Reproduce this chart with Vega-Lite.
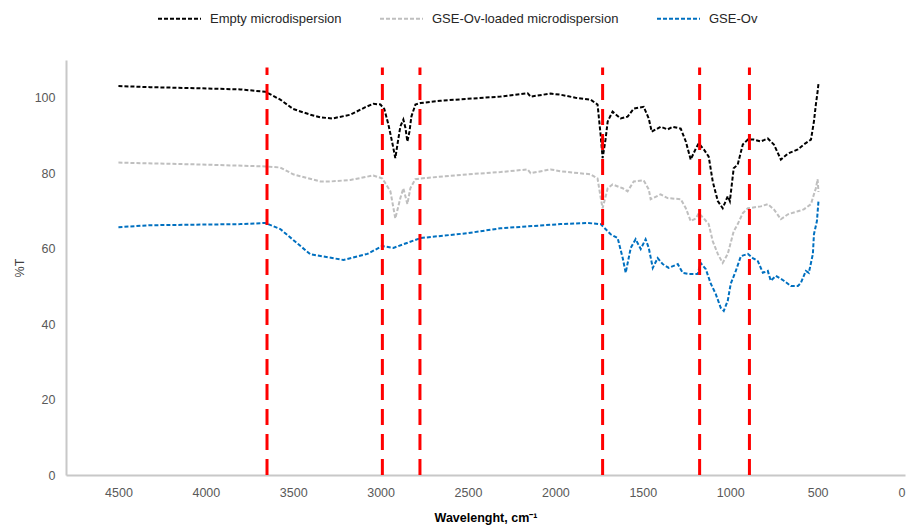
{
  "$schema": "https://vega.github.io/schema/vega-lite/v6.json",
  "width": 839,
  "height": 415,
  "autosize": "none",
  "padding": {"left": 66, "top": 60, "right": 4, "bottom": 56},
  "background": "white",
  "config": {
    "view": {"stroke": null},
    "font": "Liberation Sans",
    "axis": {"grid": false, "ticks": false, "domainColor": "#C8C8C8", "domainWidth": 2, "labelColor": "#595959", "labelFontSize": 12.5, "labelFont": "Liberation Sans"}
  },
  "datasets": {
    "spectra": [
      {"series": "Empty microdispersion", "x": 4500, "y": 103.1},
      {"series": "Empty microdispersion", "x": 4319, "y": 102.8},
      {"series": "Empty microdispersion", "x": 4033, "y": 102.5},
      {"series": "Empty microdispersion", "x": 3803, "y": 102.2},
      {"series": "Empty microdispersion", "x": 3660, "y": 101.6},
      {"series": "Empty microdispersion", "x": 3574, "y": 99.5},
      {"series": "Empty microdispersion", "x": 3500, "y": 97},
      {"series": "Empty microdispersion", "x": 3402, "y": 95.5},
      {"series": "Empty microdispersion", "x": 3345, "y": 94.8},
      {"series": "Empty microdispersion", "x": 3276, "y": 94.5},
      {"series": "Empty microdispersion", "x": 3173, "y": 95.5},
      {"series": "Empty microdispersion", "x": 3087, "y": 97.5},
      {"series": "Empty microdispersion", "x": 3042, "y": 98.4},
      {"series": "Empty microdispersion", "x": 3001, "y": 98.2},
      {"series": "Empty microdispersion", "x": 2979, "y": 97},
      {"series": "Empty microdispersion", "x": 2956, "y": 93},
      {"series": "Empty microdispersion", "x": 2933, "y": 88},
      {"series": "Empty microdispersion", "x": 2916, "y": 84},
      {"series": "Empty microdispersion", "x": 2899, "y": 89},
      {"series": "Empty microdispersion", "x": 2887, "y": 92.4},
      {"series": "Empty microdispersion", "x": 2870, "y": 94.2},
      {"series": "Empty microdispersion", "x": 2858, "y": 92},
      {"series": "Empty microdispersion", "x": 2847, "y": 88.4},
      {"series": "Empty microdispersion", "x": 2835, "y": 91},
      {"series": "Empty microdispersion", "x": 2824, "y": 95},
      {"series": "Empty microdispersion", "x": 2801, "y": 98.2},
      {"series": "Empty microdispersion", "x": 2772, "y": 98.6},
      {"series": "Empty microdispersion", "x": 2658, "y": 99.2},
      {"series": "Empty microdispersion", "x": 2503, "y": 99.7},
      {"series": "Empty microdispersion", "x": 2314, "y": 100.3},
      {"series": "Empty microdispersion", "x": 2159, "y": 101.2},
      {"series": "Empty microdispersion", "x": 2142, "y": 100.3},
      {"series": "Empty microdispersion", "x": 2028, "y": 101.1},
      {"series": "Empty microdispersion", "x": 1970, "y": 100.8},
      {"series": "Empty microdispersion", "x": 1885, "y": 100},
      {"series": "Empty microdispersion", "x": 1799, "y": 99.5},
      {"series": "Empty microdispersion", "x": 1759, "y": 98.2},
      {"series": "Empty microdispersion", "x": 1741, "y": 90},
      {"series": "Empty microdispersion", "x": 1730, "y": 84},
      {"series": "Empty microdispersion", "x": 1713, "y": 89},
      {"series": "Empty microdispersion", "x": 1701, "y": 93.7},
      {"series": "Empty microdispersion", "x": 1673, "y": 96.3},
      {"series": "Empty microdispersion", "x": 1627, "y": 94.5},
      {"series": "Empty microdispersion", "x": 1587, "y": 95},
      {"series": "Empty microdispersion", "x": 1552, "y": 97.1},
      {"series": "Empty microdispersion", "x": 1495, "y": 97.6},
      {"series": "Empty microdispersion", "x": 1466, "y": 94.5},
      {"series": "Empty microdispersion", "x": 1449, "y": 91},
      {"series": "Empty microdispersion", "x": 1398, "y": 92.3},
      {"series": "Empty microdispersion", "x": 1358, "y": 91.6},
      {"series": "Empty microdispersion", "x": 1329, "y": 92.3},
      {"series": "Empty microdispersion", "x": 1283, "y": 91.8},
      {"series": "Empty microdispersion", "x": 1254, "y": 88.4},
      {"series": "Empty microdispersion", "x": 1226, "y": 83.6},
      {"series": "Empty microdispersion", "x": 1197, "y": 86.5},
      {"series": "Empty microdispersion", "x": 1180, "y": 87.9},
      {"series": "Empty microdispersion", "x": 1151, "y": 86.3},
      {"series": "Empty microdispersion", "x": 1123, "y": 84.4},
      {"series": "Empty microdispersion", "x": 1100, "y": 77.8},
      {"series": "Empty microdispersion", "x": 1071, "y": 72.6},
      {"series": "Empty microdispersion", "x": 1043, "y": 70.7},
      {"series": "Empty microdispersion", "x": 1014, "y": 73.9},
      {"series": "Empty microdispersion", "x": 1002, "y": 72.6},
      {"series": "Empty microdispersion", "x": 980, "y": 81.3},
      {"series": "Empty microdispersion", "x": 957, "y": 82.3},
      {"series": "Empty microdispersion", "x": 928, "y": 87.6},
      {"series": "Empty microdispersion", "x": 899, "y": 88.9},
      {"series": "Empty microdispersion", "x": 865, "y": 88.9},
      {"series": "Empty microdispersion", "x": 825, "y": 88.4},
      {"series": "Empty microdispersion", "x": 785, "y": 89.2},
      {"series": "Empty microdispersion", "x": 750, "y": 87.6},
      {"series": "Empty microdispersion", "x": 710, "y": 83.6},
      {"series": "Empty microdispersion", "x": 670, "y": 85.2},
      {"series": "Empty microdispersion", "x": 613, "y": 86.3},
      {"series": "Empty microdispersion", "x": 579, "y": 87.6},
      {"series": "Empty microdispersion", "x": 538, "y": 88.9},
      {"series": "Empty microdispersion", "x": 521, "y": 93.7},
      {"series": "Empty microdispersion", "x": 510, "y": 98.2},
      {"series": "Empty microdispersion", "x": 500, "y": 101.6},
      {"series": "Empty microdispersion", "x": 495, "y": 103.7},

      {"series": "GSE-Ov-loaded microdispersion", "x": 4500, "y": 82.8},
      {"series": "GSE-Ov-loaded microdispersion", "x": 4033, "y": 82.3},
      {"series": "GSE-Ov-loaded microdispersion", "x": 3660, "y": 81.8},
      {"series": "GSE-Ov-loaded microdispersion", "x": 3574, "y": 81.5},
      {"series": "GSE-Ov-loaded microdispersion", "x": 3500, "y": 79.7},
      {"series": "GSE-Ov-loaded microdispersion", "x": 3460, "y": 79.2},
      {"series": "GSE-Ov-loaded microdispersion", "x": 3345, "y": 77.8},
      {"series": "GSE-Ov-loaded microdispersion", "x": 3288, "y": 77.8},
      {"series": "GSE-Ov-loaded microdispersion", "x": 3173, "y": 78.2},
      {"series": "GSE-Ov-loaded microdispersion", "x": 3042, "y": 79.4},
      {"series": "GSE-Ov-loaded microdispersion", "x": 2990, "y": 78.6},
      {"series": "GSE-Ov-loaded microdispersion", "x": 2944, "y": 75.2},
      {"series": "GSE-Ov-loaded microdispersion", "x": 2916, "y": 68},
      {"series": "GSE-Ov-loaded microdispersion", "x": 2887, "y": 73.4},
      {"series": "GSE-Ov-loaded microdispersion", "x": 2870, "y": 76},
      {"series": "GSE-Ov-loaded microdispersion", "x": 2847, "y": 71.8},
      {"series": "GSE-Ov-loaded microdispersion", "x": 2830, "y": 76},
      {"series": "GSE-Ov-loaded microdispersion", "x": 2801, "y": 78.4},
      {"series": "GSE-Ov-loaded microdispersion", "x": 2772, "y": 78.6},
      {"series": "GSE-Ov-loaded microdispersion", "x": 2503, "y": 79.7},
      {"series": "GSE-Ov-loaded microdispersion", "x": 2314, "y": 80.3},
      {"series": "GSE-Ov-loaded microdispersion", "x": 2159, "y": 81},
      {"series": "GSE-Ov-loaded microdispersion", "x": 2142, "y": 80},
      {"series": "GSE-Ov-loaded microdispersion", "x": 2028, "y": 81},
      {"series": "GSE-Ov-loaded microdispersion", "x": 1970, "y": 80.5},
      {"series": "GSE-Ov-loaded microdispersion", "x": 1799, "y": 79.7},
      {"series": "GSE-Ov-loaded microdispersion", "x": 1759, "y": 78.6},
      {"series": "GSE-Ov-loaded microdispersion", "x": 1741, "y": 73.5},
      {"series": "GSE-Ov-loaded microdispersion", "x": 1730, "y": 70.7},
      {"series": "GSE-Ov-loaded microdispersion", "x": 1701, "y": 76},
      {"series": "GSE-Ov-loaded microdispersion", "x": 1673, "y": 77},
      {"series": "GSE-Ov-loaded microdispersion", "x": 1615, "y": 76},
      {"series": "GSE-Ov-loaded microdispersion", "x": 1587, "y": 75.2},
      {"series": "GSE-Ov-loaded microdispersion", "x": 1552, "y": 77.8},
      {"series": "GSE-Ov-loaded microdispersion", "x": 1495, "y": 78.1},
      {"series": "GSE-Ov-loaded microdispersion", "x": 1466, "y": 75.7},
      {"series": "GSE-Ov-loaded microdispersion", "x": 1455, "y": 73.1},
      {"series": "GSE-Ov-loaded microdispersion", "x": 1398, "y": 74.4},
      {"series": "GSE-Ov-loaded microdispersion", "x": 1358, "y": 73.4},
      {"series": "GSE-Ov-loaded microdispersion", "x": 1283, "y": 73.1},
      {"series": "GSE-Ov-loaded microdispersion", "x": 1254, "y": 70.7},
      {"series": "GSE-Ov-loaded microdispersion", "x": 1226, "y": 67.3},
      {"series": "GSE-Ov-loaded microdispersion", "x": 1197, "y": 68},
      {"series": "GSE-Ov-loaded microdispersion", "x": 1180, "y": 69.4},
      {"series": "GSE-Ov-loaded microdispersion", "x": 1151, "y": 68},
      {"series": "GSE-Ov-loaded microdispersion", "x": 1123, "y": 66.5},
      {"series": "GSE-Ov-loaded microdispersion", "x": 1100, "y": 62},
      {"series": "GSE-Ov-loaded microdispersion", "x": 1071, "y": 58.6},
      {"series": "GSE-Ov-loaded microdispersion", "x": 1043, "y": 56.2},
      {"series": "GSE-Ov-loaded microdispersion", "x": 1014, "y": 58.6},
      {"series": "GSE-Ov-loaded microdispersion", "x": 980, "y": 64.6},
      {"series": "GSE-Ov-loaded microdispersion", "x": 957, "y": 66.5},
      {"series": "GSE-Ov-loaded microdispersion", "x": 928, "y": 69.4},
      {"series": "GSE-Ov-loaded microdispersion", "x": 899, "y": 70.7},
      {"series": "GSE-Ov-loaded microdispersion", "x": 825, "y": 71.2},
      {"series": "GSE-Ov-loaded microdispersion", "x": 785, "y": 71.8},
      {"series": "GSE-Ov-loaded microdispersion", "x": 750, "y": 70.4},
      {"series": "GSE-Ov-loaded microdispersion", "x": 710, "y": 67.8},
      {"series": "GSE-Ov-loaded microdispersion", "x": 670, "y": 69.1},
      {"series": "GSE-Ov-loaded microdispersion", "x": 613, "y": 69.9},
      {"series": "GSE-Ov-loaded microdispersion", "x": 579, "y": 70.4},
      {"series": "GSE-Ov-loaded microdispersion", "x": 538, "y": 71.8},
      {"series": "GSE-Ov-loaded microdispersion", "x": 521, "y": 74.4},
      {"series": "GSE-Ov-loaded microdispersion", "x": 510, "y": 76},
      {"series": "GSE-Ov-loaded microdispersion", "x": 500, "y": 78.4},
      {"series": "GSE-Ov-loaded microdispersion", "x": 495, "y": 75},

      {"series": "GSE-Ov", "x": 4500, "y": 65.7},
      {"series": "GSE-Ov", "x": 4319, "y": 66.2},
      {"series": "GSE-Ov", "x": 3803, "y": 66.5},
      {"series": "GSE-Ov", "x": 3660, "y": 66.8},
      {"series": "GSE-Ov", "x": 3574, "y": 65.2},
      {"series": "GSE-Ov", "x": 3500, "y": 62.3},
      {"series": "GSE-Ov", "x": 3402, "y": 58.5},
      {"series": "GSE-Ov", "x": 3213, "y": 57},
      {"series": "GSE-Ov", "x": 3076, "y": 58.6},
      {"series": "GSE-Ov", "x": 2990, "y": 60.7},
      {"series": "GSE-Ov", "x": 2927, "y": 60.2},
      {"series": "GSE-Ov", "x": 2772, "y": 62.8},
      {"series": "GSE-Ov", "x": 2503, "y": 64.1},
      {"series": "GSE-Ov", "x": 2314, "y": 65.4},
      {"series": "GSE-Ov", "x": 1970, "y": 66.5},
      {"series": "GSE-Ov", "x": 1816, "y": 66.8},
      {"series": "GSE-Ov", "x": 1741, "y": 66.5},
      {"series": "GSE-Ov", "x": 1684, "y": 63.8},
      {"series": "GSE-Ov", "x": 1644, "y": 62.8},
      {"series": "GSE-Ov", "x": 1615, "y": 57.5},
      {"series": "GSE-Ov", "x": 1598, "y": 53.6},
      {"series": "GSE-Ov", "x": 1569, "y": 60.2},
      {"series": "GSE-Ov", "x": 1541, "y": 62.5},
      {"series": "GSE-Ov", "x": 1512, "y": 59.9},
      {"series": "GSE-Ov", "x": 1484, "y": 62.5},
      {"series": "GSE-Ov", "x": 1466, "y": 60.2},
      {"series": "GSE-Ov", "x": 1443, "y": 54.9},
      {"series": "GSE-Ov", "x": 1415, "y": 57.5},
      {"series": "GSE-Ov", "x": 1386, "y": 55.9},
      {"series": "GSE-Ov", "x": 1352, "y": 54.9},
      {"series": "GSE-Ov", "x": 1300, "y": 55.9},
      {"series": "GSE-Ov", "x": 1272, "y": 53.6},
      {"series": "GSE-Ov", "x": 1237, "y": 53.3},
      {"series": "GSE-Ov", "x": 1186, "y": 53.3},
      {"series": "GSE-Ov", "x": 1169, "y": 56.2},
      {"series": "GSE-Ov", "x": 1140, "y": 54.6},
      {"series": "GSE-Ov", "x": 1111, "y": 50.7},
      {"series": "GSE-Ov", "x": 1083, "y": 48},
      {"series": "GSE-Ov", "x": 1054, "y": 44.3},
      {"series": "GSE-Ov", "x": 1037, "y": 43.5},
      {"series": "GSE-Ov", "x": 1014, "y": 46.2},
      {"series": "GSE-Ov", "x": 997, "y": 50.7},
      {"series": "GSE-Ov", "x": 968, "y": 54.1},
      {"series": "GSE-Ov", "x": 939, "y": 58},
      {"series": "GSE-Ov", "x": 899, "y": 58.6},
      {"series": "GSE-Ov", "x": 871, "y": 57.5},
      {"series": "GSE-Ov", "x": 842, "y": 56.7},
      {"series": "GSE-Ov", "x": 813, "y": 53.6},
      {"series": "GSE-Ov", "x": 785, "y": 54.1},
      {"series": "GSE-Ov", "x": 768, "y": 51.5},
      {"series": "GSE-Ov", "x": 739, "y": 52.8},
      {"series": "GSE-Ov", "x": 693, "y": 51.5},
      {"series": "GSE-Ov", "x": 653, "y": 50.1},
      {"series": "GSE-Ov", "x": 613, "y": 50.1},
      {"series": "GSE-Ov", "x": 596, "y": 50.9},
      {"series": "GSE-Ov", "x": 567, "y": 54.1},
      {"series": "GSE-Ov", "x": 550, "y": 53.6},
      {"series": "GSE-Ov", "x": 527, "y": 58.6},
      {"series": "GSE-Ov", "x": 521, "y": 63.8},
      {"series": "GSE-Ov", "x": 504, "y": 67.3},
      {"series": "GSE-Ov", "x": 495, "y": 72.6}
    ],
    "markers": [
      {"x": 3650}, {"x": 2990}, {"x": 2775}, {"x": 1730}, {"x": 1175}, {"x": 890}
    ]
  },
  "layer": [
    {
      "data": {"name": "spectra"},
      "mark": {"type": "line", "strokeWidth": 2, "strokeDash": [4, 2]},
      "encoding": {
        "x": {
          "field": "x", "type": "quantitative",
          "scale": {"domain": [0, 4800], "reverse": true, "nice": false, "zero": false},
          "axis": {"values": [0, 500, 1000, 1500, 2000, 2500, 3000, 3500, 4000, 4500], "format": "d", "labelPadding": 11, "title": "Wavelenght, cm⁻¹", "titleFontWeight": "bold", "titleFontSize": 12.5, "titleColor": "#000000", "titlePadding": 13}
        },
        "y": {
          "field": "y", "type": "quantitative",
          "scale": {"domain": [0, 110], "nice": false},
          "axis": {"values": [0, 20, 40, 60, 80, 100], "format": "d", "labelPadding": 11, "title": "%T", "titleFontWeight": "normal", "titleFontSize": 12.5, "titleColor": "#404040", "titlePadding": 8}
        },
        "color": {
          "field": "series", "type": "nominal",
          "sort": ["Empty microdispersion", "GSE-Ov-loaded microdispersion", "GSE-Ov"],
          "scale": {"domain": ["Empty microdispersion", "GSE-Ov-loaded microdispersion", "GSE-Ov"], "range": ["#000000", "#BFBFBF", "#0070C0"]},
          "legend": {"title": null, "orient": "none", "legendX": 91, "legendY": -64, "direction": "horizontal", "symbolType": "stroke", "symbolStrokeWidth": 2, "symbolDash": [4, 2], "symbolSize": 1849, "labelFontSize": 13, "labelLimit": 0, "labelColor": "#262626", "columnPadding": 34, "labelOffset": 8}
        },
        "detail": {"field": "series"}
      }
    },
    {
      "data": {"name": "markers"},
      "mark": {"type": "rule", "color": "#FF0000", "strokeWidth": 3, "strokeDash": [16, 9]},
      "encoding": {
        "x": {"field": "x", "type": "quantitative"},
        "y": {"datum": 0},
        "y2": {"datum": 108}
      }
    }
  ]
}
